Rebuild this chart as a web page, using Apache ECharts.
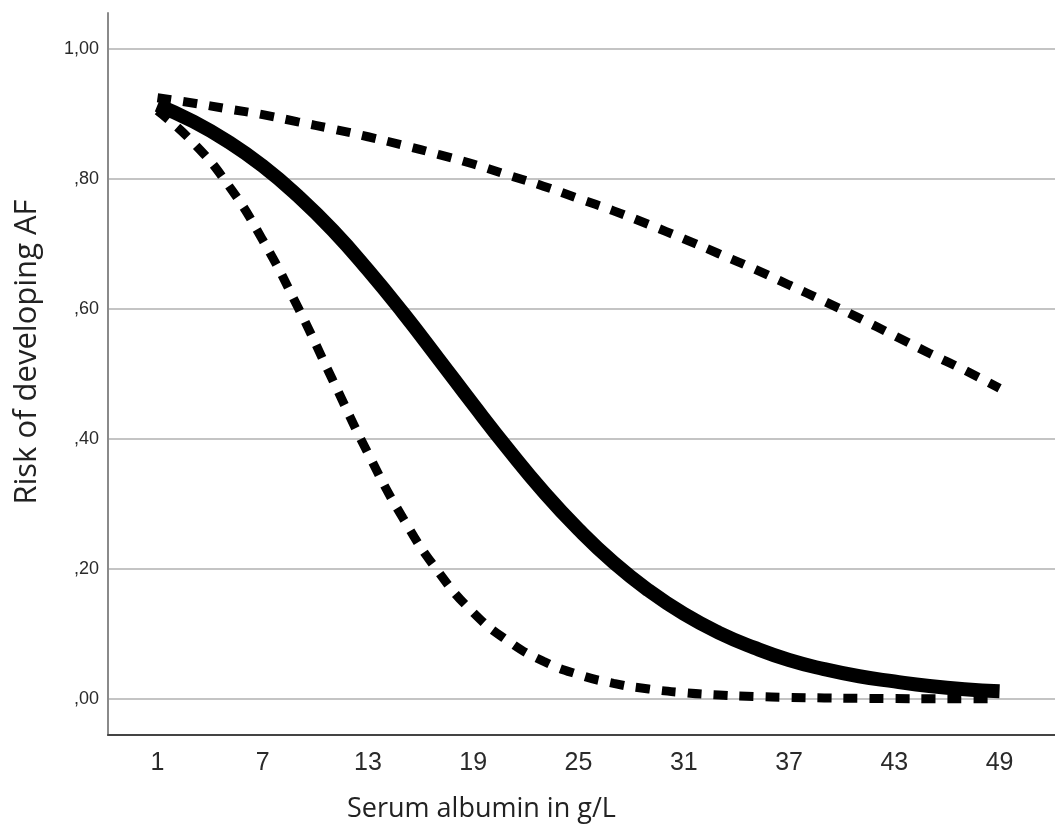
<!DOCTYPE html>
<html>
<head>
<meta charset="utf-8">
<script src="https://cdn.jsdelivr.net/npm/echarts@6/dist/echarts.min.js"></script>
<style>
  html, body { margin: 0; padding: 0; background: #ffffff; }
  #chart { width: 1055px; height: 827px; }
</style>
</head>
<body>
<div id="chart"></div>
<script>
// Serum albumin (g/L) sample points
var albumin = [1, 3, 5, 7, 9, 11, 13, 15, 17, 19, 21, 23, 25, 27, 29, 31, 33, 35, 37, 39, 41, 43, 45, 47, 49];
// Estimated risk of developing AF (solid line)
var riskEstimate = [0.914, 0.889, 0.858, 0.820, 0.774, 0.721, 0.660, 0.594, 0.524, 0.453, 0.384, 0.319, 0.261, 0.210, 0.167, 0.131, 0.102, 0.079, 0.060, 0.046, 0.035, 0.027, 0.020, 0.015, 0.012];
// Upper confidence limit (dashed)
var riskUpper = [0.925, 0.917, 0.908, 0.899, 0.888, 0.877, 0.865, 0.852, 0.838, 0.823, 0.806, 0.789, 0.770, 0.751, 0.730, 0.708, 0.685, 0.662, 0.637, 0.612, 0.586, 0.559, 0.532, 0.506, 0.478];
// Lower confidence limit (dashed)
var riskLower = [0.905, 0.857, 0.792, 0.706, 0.603, 0.490, 0.378, 0.278, 0.196, 0.133, 0.089, 0.058, 0.0375, 0.024, 0.0154, 0.0098, 0.0062, 0.0039, 0.0025, 0.0016, 0.0010, 0.0006, 0.0004, 0.00025, 0.00016];
// Tick labels
var xTicks = [1, 7, 13, 19, 25, 31, 37, 43, 49];
var yTicks = [0, 0.2, 0.4, 0.6, 0.8, 1.0];
var xTitle = 'Serum albumin in g/L';
var yTitle = 'Risk of developing AF';

function pairs(ys) {
  return albumin.map(function (x, i) { return [x, ys[i]]; });
}

var chart = echarts.init(document.getElementById('chart'), null, { renderer: 'canvas' });
chart.setOption({
  animation: false,
  backgroundColor: '#ffffff',
  title: {
    text: xTitle,
    left: 347,
    top: 796,
    padding: 0,
    textStyle: { fontFamily: 'Open Sans', fontSize: 27, fontWeight: 'normal', color: '#222222' }
  },
  grid: { left: 108, right: 0, top: 13, bottom: 92, containLabel: false },
  xAxis: {
    type: 'value',
    min: -1.82,
    max: 52.16,
    axisLine: { show: true, onZero: false, lineStyle: { color: '#444444', width: 2 } },
    axisTick: { show: false, customValues: xTicks },
    splitLine: { show: false },
    axisLabel: {
      customValues: xTicks,
      margin: 16,
      fontFamily: 'Liberation Sans',
      fontSize: 25,
      color: '#2a2a2a'
    }
  },
  yAxis: {
    type: 'value',
    min: -0.0554,
    max: 1.0554,
    name: yTitle,
    nameLocation: 'middle',
    nameGap: 65,
    nameTextStyle: { fontFamily: 'Open Sans', fontSize: 31, color: '#222222', padding: [0, 0, 0, 44] },
    axisLine: { show: true, onZero: false, lineStyle: { color: '#8a8a8a', width: 2 } },
    axisTick: { show: false, customValues: yTicks },
    splitLine: { show: true, lineStyle: { color: '#c4c4c4', width: 2 } },
    axisLabel: {
      customValues: yTicks,
      margin: 9,
      fontFamily: 'Liberation Sans',
      fontSize: 18,
      color: '#2a2a2a',
      formatter: function (v) {
        return v.toFixed(2).replace('.', ',').replace(/^0/, '');
      }
    }
  },
  series: [
    {
      type: 'line',
      name: 'upper',
      data: pairs(riskUpper),
      smooth: true,
      showSymbol: false,
      lineStyle: { color: '#000000', width: 9, type: [14, 12], cap: 'butt' }
    },
    {
      type: 'line',
      name: 'lower',
      data: pairs(riskLower),
      smooth: true,
      showSymbol: false,
      lineStyle: { color: '#000000', width: 9, type: [14, 12], cap: 'butt' }
    },
    {
      type: 'line',
      name: 'estimate',
      data: pairs(riskEstimate),
      smooth: true,
      showSymbol: false,
      lineStyle: { color: '#000000', width: 14, type: 'solid', cap: 'butt' }
    }
  ]
});
</script>
</body>
</html>
